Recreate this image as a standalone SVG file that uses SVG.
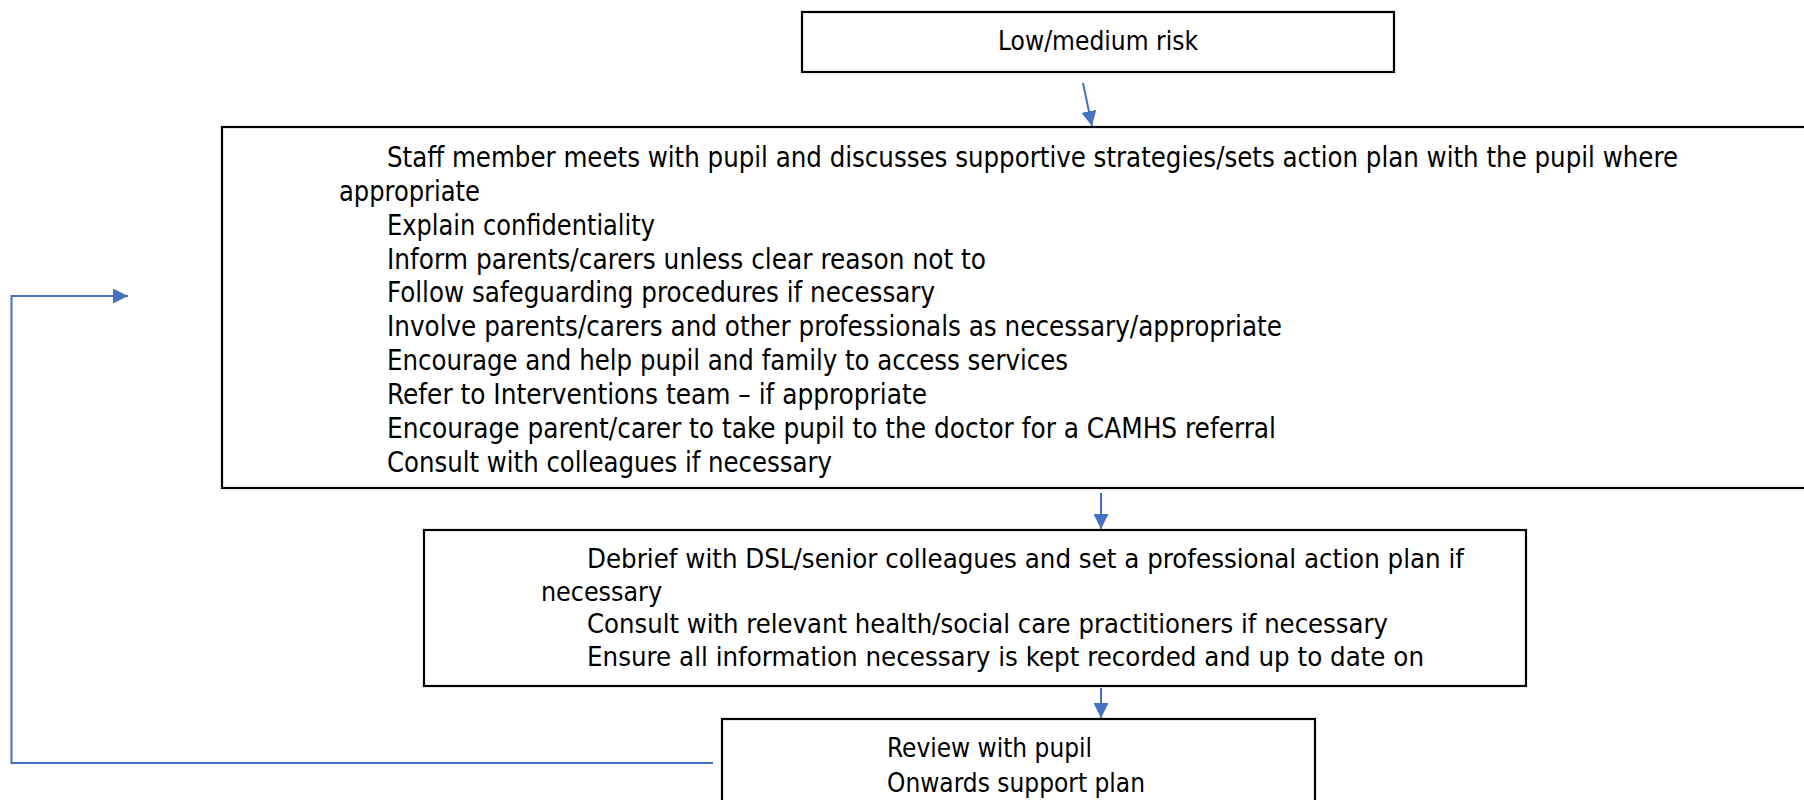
<svg xmlns="http://www.w3.org/2000/svg" width="1804" height="800" viewBox="0 0 1804 800">
<defs>
<style>
.box{fill:#ffffff;stroke:#000000;stroke-width:2.2}
.t{font-family:"DejaVu Sans Condensed","DejaVu Sans",sans-serif;fill:#000000}
.big{font-size:27.5px}
.mid{font-size:26.5px}
.bot{font-size:26.5px}
.top{font-size:26px}
.conn{fill:none;stroke:#4472C4;stroke-width:2}
</style>
<marker id="arr" viewBox="0 0 10 10" refX="10" refY="5" markerWidth="15" markerHeight="15" markerUnits="userSpaceOnUse" orient="auto">
<path d="M0,0 L10,5 L0,10 z" fill="#4472C4"/>
</marker>
</defs>
<rect width="1804" height="800" fill="#ffffff"/>

<g id="node-risk">
<rect class="box" x="802" y="12" width="592" height="60"/>
<text class="t top" x="998" y="50" textLength="200" lengthAdjust="spacingAndGlyphs">Low/medium risk</text>
</g>

<g id="node-meet">
<rect class="box" x="222" y="127" width="1600" height="361"/>
<text class="t big" x="387" y="167" textLength="1291" lengthAdjust="spacingAndGlyphs">Staff member meets with pupil and discusses supportive strategies/sets action plan with the pupil where</text>
<text class="t big" x="339" y="200.8" textLength="141" lengthAdjust="spacingAndGlyphs">appropriate</text>
<text class="t big" x="387" y="234.7" textLength="268" lengthAdjust="spacingAndGlyphs">Explain confidentiality</text>
<text class="t big" x="387" y="268.6" textLength="599" lengthAdjust="spacingAndGlyphs">Inform parents/carers unless clear reason not to</text>
<text class="t big" x="387" y="302.4" textLength="548" lengthAdjust="spacingAndGlyphs">Follow safeguarding procedures if necessary</text>
<text class="t big" x="387" y="336.3" textLength="895" lengthAdjust="spacingAndGlyphs">Involve parents/carers and other professionals as necessary/appropriate</text>
<text class="t big" x="387" y="370.1" textLength="681" lengthAdjust="spacingAndGlyphs">Encourage and help pupil and family to access services</text>
<text class="t big" x="387" y="404" textLength="540" lengthAdjust="spacingAndGlyphs">Refer to Interventions team – if appropriate</text>
<text class="t big" x="387" y="437.8" textLength="889" lengthAdjust="spacingAndGlyphs">Encourage parent/carer to take pupil to the doctor for a CAMHS referral</text>
<text class="t big" x="387" y="471.7" textLength="445" lengthAdjust="spacingAndGlyphs">Consult with colleagues if necessary</text>
</g>

<g id="node-debrief">
<rect class="box" x="424" y="530" width="1102" height="156"/>
<text class="t mid" x="587" y="568" textLength="877" lengthAdjust="spacingAndGlyphs">Debrief with DSL/senior colleagues and set a professional action plan if</text>
<text class="t mid" x="541" y="600.5" textLength="121" lengthAdjust="spacingAndGlyphs">necessary</text>
<text class="t mid" x="587" y="633" textLength="801" lengthAdjust="spacingAndGlyphs">Consult with relevant health/social care practitioners if necessary</text>
<text class="t mid" x="587" y="665.5" textLength="837" lengthAdjust="spacingAndGlyphs">Ensure all information necessary is kept recorded and up to date on</text>
</g>

<g id="node-review">
<rect class="box" x="722" y="719" width="593" height="100"/>
<text class="t bot" x="887" y="757" textLength="205" lengthAdjust="spacingAndGlyphs">Review with pupil</text>
<text class="t bot" x="887" y="792" textLength="258" lengthAdjust="spacingAndGlyphs">Onwards support plan</text>
</g>

<g id="connectors">
<line class="conn" x1="1083" y1="83" x2="1092" y2="126" marker-end="url(#arr)"/>
<line class="conn" x1="1101" y1="493" x2="1101" y2="529" marker-end="url(#arr)"/>
<line class="conn" x1="1101" y1="688" x2="1101" y2="718" marker-end="url(#arr)"/>
<polyline class="conn" points="713,763 11.5,763 11.5,296 128,296" marker-end="url(#arr)"/>
</g>
</svg>
